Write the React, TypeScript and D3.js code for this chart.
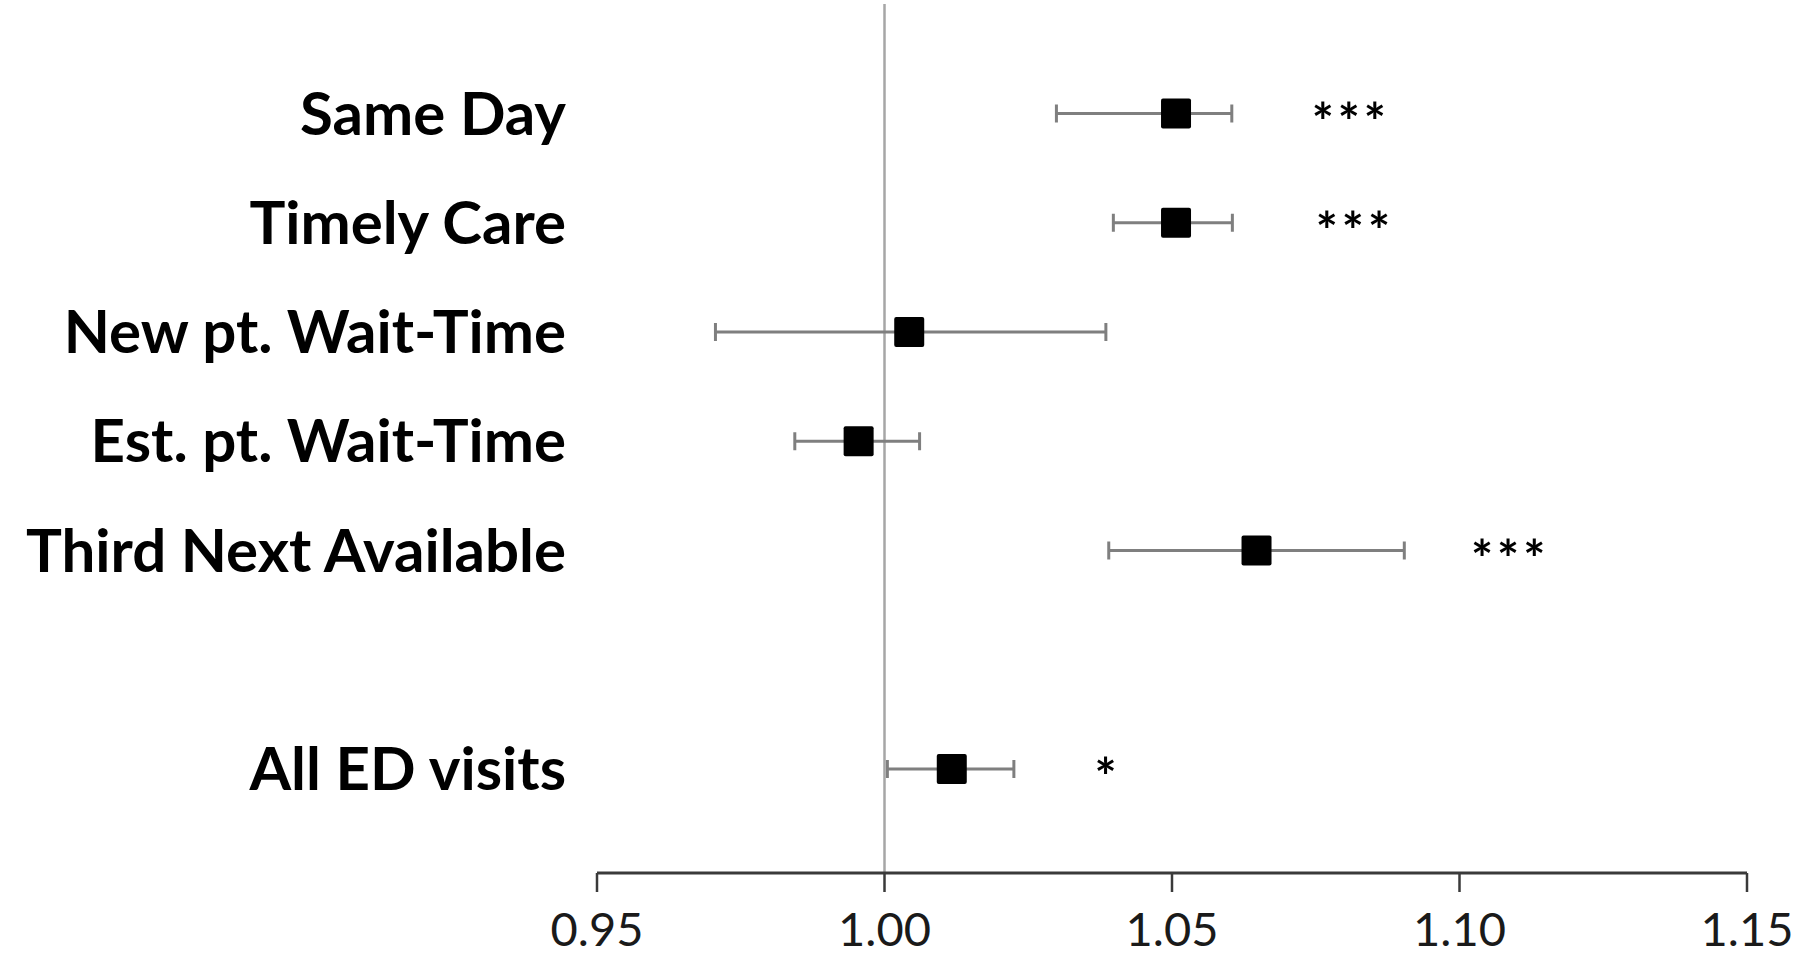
import React from 'react';
import * as d3 from 'd3';

// Rate ratios with confidence intervals
const categories = [
  'Same Day',
  'Timely Care',
  'New pt. Wait-Time',
  'Est. pt. Wait-Time',
  'Third Next Available',
  'All ED visits',
];
const rowIndex = [0, 1, 2, 3, 4, 6];
const estimates = [1.0507, 1.0507, 1.0043, 0.9955, 1.0647, 1.0117];
const lower = [1.0299, 1.0398, 0.9706, 0.9844, 1.039, 1.0005];
const upper = [1.0604, 1.0605, 1.0385, 1.0061, 1.0904, 1.0225];
const significance = ['***', '***', '', '', '***', '*'];
const sigPos = [1.0811, 1.0818, 0, 0, 1.1088, 1.0388];
const tickValues = [0.95, 1.0, 1.05, 1.1, 1.15];

const width = 1809;
const height = 967;
const axisY = 873;

const App = () => {
  const x = d3.scaleLinear().domain([0.95, 1.15]).range([597, 1747]);
  const y = d3.scaleLinear().domain([0, 6]).range([113.5, 769]);

  const labelFont = 'Lato, "Open Sans", sans-serif';
  const box = 30;
  const cap = 9;

  return (
    <svg
      width={width}
      height={height}
      style={{ position: 'absolute', left: 0, top: 0, background: '#fff' }}
    >
      {/* reference line at 1.00 */}
      <line x1={x(1)} x2={x(1)} y1={4} y2={axisY} stroke="#a6a6a6" strokeWidth={2.5} />

      {/* x axis */}
      <line x1={x(0.95)} x2={x(1.15)} y1={axisY} y2={axisY} stroke="#3a3a3a" strokeWidth={3} />
      {tickValues.map(t => (
        <g key={t}>
          <line x1={x(t)} x2={x(t)} y1={axisY} y2={axisY + 19} stroke="#3a3a3a" strokeWidth={2.5} />
          <text
            x={x(t)}
            y={946}
            textAnchor="middle"
            fontFamily={labelFont}
            fontSize={47}
            fill="#1a1a1a"
          >
            {d3.format('.2f')(t)}
          </text>
        </g>
      ))}

      {categories.map((c, i) => {
        const cy = y(rowIndex[i]);
        return (
          <g key={c}>
            <text
              x={566}
              y={cy + 21}
              textAnchor="end"
              fontFamily={labelFont}
              fontWeight="bold"
              fontSize={60}
              fill="#000"
            >
              {c}
            </text>
            {/* error bar */}
            <line x1={x(lower[i])} x2={x(upper[i])} y1={cy} y2={cy} stroke="#7f7f7f" strokeWidth={3} />
            <line x1={x(lower[i])} x2={x(lower[i])} y1={cy - cap} y2={cy + cap} stroke="#7f7f7f" strokeWidth={3} />
            <line x1={x(upper[i])} x2={x(upper[i])} y1={cy - cap} y2={cy + cap} stroke="#7f7f7f" strokeWidth={3} />
            {/* point estimate */}
            <rect
              x={x(estimates[i]) - box / 2}
              y={cy - box / 2}
              width={box}
              height={box}
              rx={2}
              fill="#000"
            />
            {significance[i] && (
              <text
                x={x(sigPos[i])}
                y={cy + 27}
                textAnchor="middle"
                fontFamily={labelFont}
                fontWeight="bold"
                fontSize={52}
                letterSpacing={4}
                fill="#000"
              >
                {significance[i]}
              </text>
            )}
          </g>
        );
      })}
    </svg>
  );
};

export default App;
